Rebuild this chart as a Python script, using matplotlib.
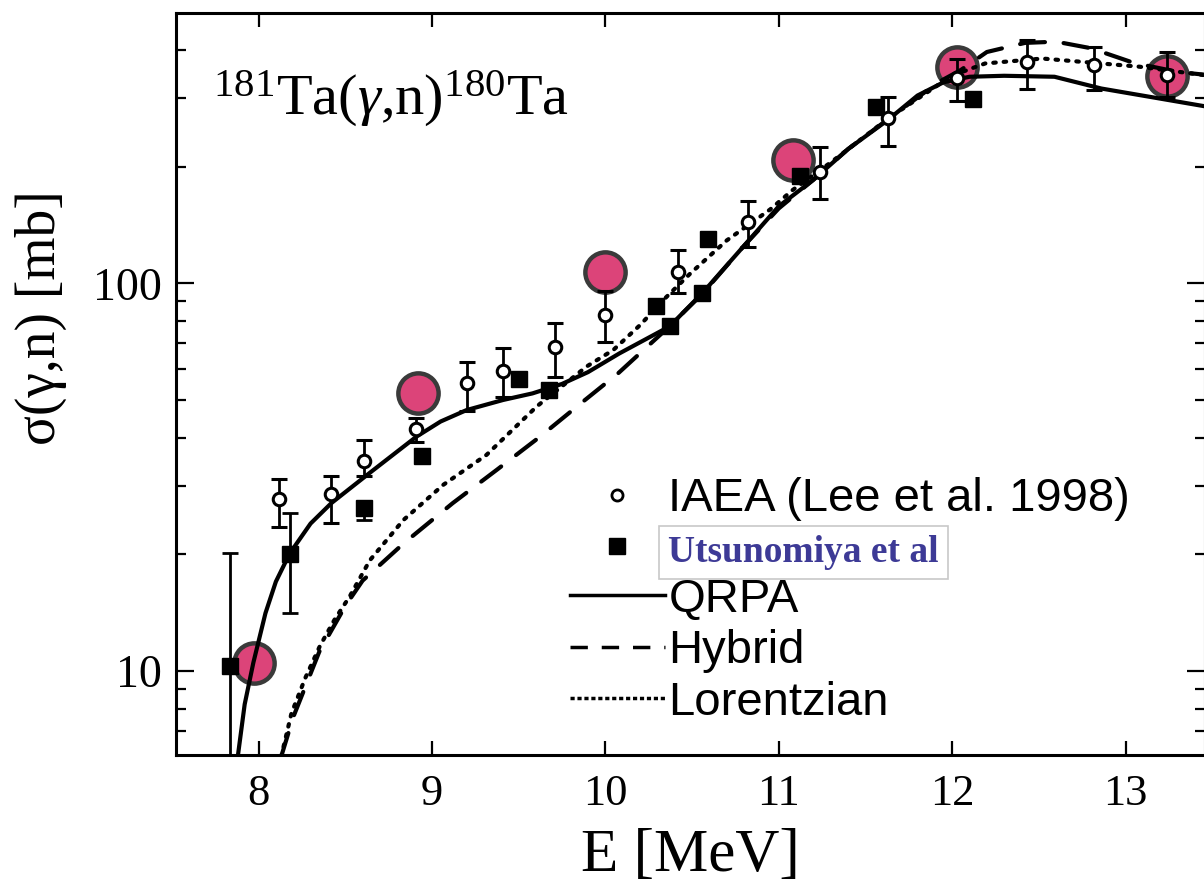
import numpy as np
import matplotlib
matplotlib.use("Agg")
import matplotlib.pyplot as plt
from matplotlib.lines import Line2D
from matplotlib.ticker import LogLocator, NullFormatter, FixedLocator, FixedFormatter

# ---------------- data ----------------
pink_E = [7.975, 8.92, 10.00, 11.08, 12.03, 13.24]
pink_sig = [10.5, 52, 107, 208, 362, 342]

iaea_E = [8.12, 8.42, 8.61, 8.91, 9.20, 9.41, 9.71, 10.00, 10.42, 10.82, 11.24, 11.63, 12.03, 12.43, 12.82, 13.24]
iaea_sig = [27.8, 28.6, 34.7, 42.1, 55.2, 59.5, 68.4, 82.9, 107, 144, 194, 267, 338, 373, 366, 345]
iaea_hi = [31.2, 31.9, 39.4, 45.0, 62.8, 68.0, 78.9, 95.6, 122, 163, 225, 303, 380, 425, 407, 396]
iaea_lo = [23.5, 24.1, 31.9, 39.0, 46.7, 50.8, 57.4, 70.6, 94.4, 124, 165, 226, 295, 318, 316, 303]

ut_E = [7.835, 8.18, 8.61, 8.94, 9.50, 9.675, 10.29, 10.37, 10.56, 10.59, 11.12, 11.56, 12.12]
ut_sig = [10.3, 20.0, 26.4, 35.8, 56.7, 53.1, 87.4, 77.4, 94.4, 130, 189, 285, 299]
ut_hi = [20.2, 25.6, 26.4, 35.8, 56.7, 53.1, 87.4, 77.4, 94.4, 130, 189, 285, 299]
ut_lo = [4.0, 14.1, 24.5, 35.8, 56.7, 53.1, 87.4, 77.4, 94.4, 130, 189, 285, 299]

qrpa_E = [7.88, 7.92, 7.97, 8.04, 8.10, 8.18, 8.30, 8.42, 8.64, 8.91, 9.05, 9.20, 9.41, 9.58,
          9.75, 9.90, 10.08, 10.37, 10.56, 10.80, 11.00, 11.20, 11.40, 11.63, 11.80, 11.95, 12.10,
          12.30, 12.59, 12.86, 13.19, 13.46]
qrpa_sig = [6.0, 8.2, 10.5, 14.1, 17.0, 20.1, 24.0, 27.1, 32.4, 40.2, 44.0, 47.1, 50.0, 52.0,
            55.0, 59.0, 65.9, 77.4, 94.4, 125, 158, 185, 222, 264, 305, 330, 341,
            343, 341, 318, 300, 286]

hyb_E = [8.13, 8.20, 8.35, 8.50, 8.60, 8.835, 9.12, 9.373, 9.623, 9.873, 10.074, 10.20, 10.35,
         10.56, 10.80, 11.00, 11.20, 11.40, 11.63, 11.92, 12.05, 12.20, 12.42, 12.60, 12.80,
         13.05, 13.30, 13.46]
hyb_sig = [6.0, 7.6, 11.2, 14.7, 17.1, 21.3, 27.1, 33.0, 40.2, 49.6, 58.6, 66, 76,
           94, 125, 156, 185, 222, 265, 330, 355, 395, 417, 420, 404,
           370, 351, 345]

lor_E = [8.13, 8.19, 8.27, 8.354, 8.44, 8.527, 8.642, 8.835, 9.065, 9.315, 9.604, 9.892, 10.046,
         10.20, 10.35, 10.49, 10.70, 10.95, 11.08, 11.30, 11.63, 11.92, 12.05, 12.19, 12.52,
         12.86, 13.08, 13.46]
lor_sig = [6.0, 7.78, 9.6, 11.6, 13.6, 15.6, 19.3, 24.5, 30.2, 36.1, 48.1, 61, 67.3,
           78, 92, 106, 129, 155, 174, 205, 266, 325, 350, 369, 380,
           369, 362, 344]

x_ticks = [8, 9, 10, 11, 12, 13]
x_ticklabels = ["8", "9", "10", "11", "12", "13"]
y_ticks = [10, 100]
y_ticklabels = ["10", "100"]

legend_labels = ["IAEA (Lee et al. 1998)", "Utsunomiya et al", "QRPA", "Hybrid", "Lorentzian"]
title_text = r"$^{181}\mathrm{Ta}(\gamma{,}\mathrm{n})^{180}\mathrm{Ta}$"
xlabel_text = "E [MeV]"
ylabel_text = "σ(γ,n) [mb]"

# ---------------- style ----------------
plt.rcParams["font.family"] = ["Liberation Serif", "DejaVu Serif"]
plt.rcParams["mathtext.fontset"] = "custom"
plt.rcParams["mathtext.rm"] = "Liberation Serif"
plt.rcParams["mathtext.it"] = "Liberation Serif:italic"

fig = plt.figure(figsize=(12.04, 8.88), dpi=100)
ax = fig.add_axes([176 / 1204, 1 - 755 / 888, 1029 / 1204, 742 / 888])

ax.set_xscale("linear")
ax.set_yscale("log")

lw = 3.0
ax.plot(pink_E, pink_sig, ls="none", marker="o", ms=29, mfc="#dc4479", mec="#3a3a3a",
        mew=3.2, zorder=2)

ax.plot(qrpa_E, qrpa_sig, color="black", lw=lw, ls="-", zorder=3, solid_capstyle="round")
ax.plot(hyb_E, hyb_sig, color="black", lw=lw, ls=(0, (6, 4.5)), zorder=3, dash_capstyle="round")
ax.plot(lor_E, lor_sig, color="black", lw=lw, ls=(0, (0.6, 1.9)), zorder=3, dash_capstyle="round")

ut_err = [np.array(ut_sig) - np.array(ut_lo), np.array(ut_hi) - np.array(ut_sig)]
ax.errorbar(ut_E, ut_sig, yerr=ut_err, fmt="s", ms=12, mfc="black", mec="black",
            ecolor="black", elinewidth=2.0, capsize=6, capthick=2.0, zorder=4)

iaea_err = [np.array(iaea_sig) - np.array(iaea_lo), np.array(iaea_hi) - np.array(iaea_sig)]
ax.errorbar(iaea_E, iaea_sig, yerr=iaea_err, fmt="o", ms=9, mfc="white", mec="black",
            mew=2.2, ecolor="black", elinewidth=2.0, capsize=6, capthick=2.0, zorder=5)

ax.set_xlim(7.524, 13.458)
ax.set_ylim(6.07, 498)

ax.xaxis.set_major_locator(FixedLocator(x_ticks))
ax.xaxis.set_major_formatter(FixedFormatter(x_ticklabels))
ax.yaxis.set_major_locator(FixedLocator(y_ticks))
ax.yaxis.set_major_formatter(FixedFormatter(y_ticklabels))
ax.yaxis.set_minor_locator(LogLocator(base=10, subs=np.arange(2, 10)))
ax.yaxis.set_minor_formatter(NullFormatter())

ax.tick_params(axis="both", which="both", direction="in", top=True, right=True, width=1.6)
ax.tick_params(axis="x", which="major", length=10, pad=14, labelsize=32)
ax.tick_params(axis="y", which="major", length=13, pad=10, labelsize=33)
ax.tick_params(axis="y", which="minor", length=7)
for s in ax.spines.values():
    s.set_linewidth(2.2)

ax.set_xlabel(xlabel_text, fontsize=44, labelpad=10)
ax.set_ylabel(ylabel_text, fontsize=40)
ax.yaxis.set_label_coords(-0.106, 0.589)

ax.text(0.036, 0.8625, title_text, transform=ax.transAxes, fontsize=42, va="baseline", ha="left")

handles = [
    Line2D([], [], ls="none", marker="o", ms=8, mfc="white", mec="black", mew=2),
    Line2D([], [], ls="none", marker="s", ms=11, mfc="black", mec="black"),
    Line2D([], [], color="black", lw=2.5, ls="-"),
    Line2D([], [], color="black", lw=2.5, ls=(0, (5, 4))),
    Line2D([], [], color="black", lw=2.5, ls=(0, (1.2, 0.8))),
]
leg = ax.legend(handles, legend_labels, loc="upper left", bbox_to_anchor=(0.383, 0.374),
                frameon=False, borderpad=0, borderaxespad=0, handlelength=2.0,
                handletextpad=0.08, labelspacing=0.16,
                prop={"family": "Liberation Sans", "size": 34})
t_ut = leg.get_texts()[1]
t_ut.set_fontfamily("Liberation Serif")
t_ut.set_fontweight("bold")
t_ut.set_fontsize(27)
t_ut.set_color("#3d3a96")
t_ut.set_bbox(dict(facecolor="white", edgecolor="#c8c8c8", boxstyle="square,pad=0.25", lw=1.2))

fig.savefig("out.png", dpi=100)
